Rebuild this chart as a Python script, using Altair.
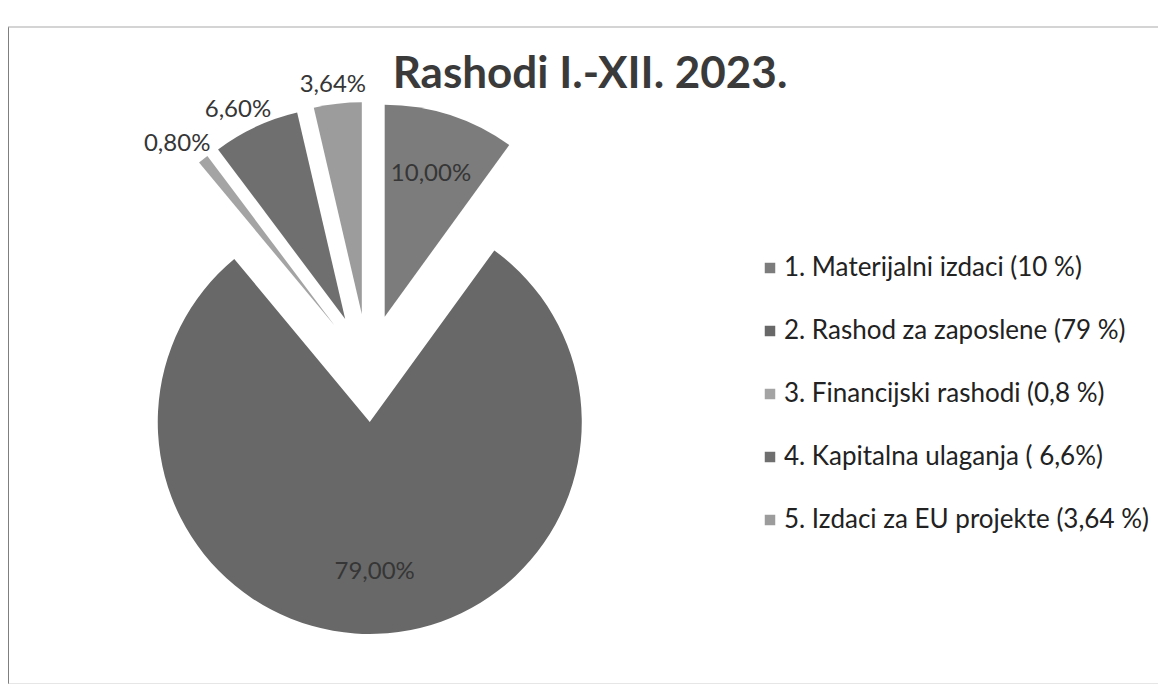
import altair as alt
import pandas as pd

title_text = "Rashodi I.-XII. 2023."
categories = [
    "1. Materijalni izdaci (10 %)",
    "2. Rashod za zaposlene (79 %)",
    "3. Financijski rashodi (0,8 %)",
    "4. Kapitalna ulaganja ( 6,6%)",
    "5. Izdaci za EU projekte  (3,64  %)",
]
values = [10.0, 79.0, 0.8, 6.6, 3.64]
value_labels = ["10,00%", "79,00%", "0,80%", "6,60%", "3,64%"]
colors = ["#7c7c7c", "#686868", "#a4a4a4", "#6f6f6f", "#9c9c9c"]

W, H = 1150, 657
CX, CY = 360, 341
R = 212
EXPLODE = 54
FONT = "Lato"

df = pd.DataFrame({
    "category": categories,
    "value": values,
    "label": value_labels,
    "order": list(range(len(values))),
})

base = (
    alt.Chart(df)
    .transform_window(cum="sum(value)", sort=[alt.SortField("order")], frame=[None, 0])
    .transform_joinaggregate(total="sum(value)")
    .transform_calculate(
        a0="2*PI*(datum.cum - datum.value)/datum.total",
        a1="2*PI*datum.cum/datum.total",
    )
    .transform_calculate(am="(datum.a0 + datum.a1)/2")
    .transform_calculate(
        cx=f"{CX} + {EXPLODE}*sin(datum.am)",
        cy=f"{CY} - {EXPLODE}*cos(datum.am)",
        inside="datum.value >= 10",
    )
    .transform_calculate(
        tx=f"datum.inside ? datum.cx + 150*sin(datum.am) : datum.cx + {R + 8}*sin(datum.am) + 34*sin(datum.am)",
        ty=f"datum.inside ? datum.cy - 150*cos(datum.am) : datum.cy - {R + 8}*cos(datum.am) - 11*cos(datum.am)",
    )
)

arcs = base.mark_arc(outerRadius=R).encode(
    theta=alt.Theta("a0:Q", scale=None, stack=None),
    theta2="a1:Q",
    x=alt.X("cx:Q", scale=None, axis=None),
    y=alt.Y("cy:Q", scale=None, axis=None),
    color=alt.Color(
        "category:N",
        scale=alt.Scale(domain=categories, range=colors),
        legend=alt.Legend(
            title=None,
            orient="none",
            legendX=749,
            legendY=228,
            padding=0,
            symbolType="square",
            symbolSize=110,
            symbolStrokeWidth=0,
            labelFont=FONT,
            labelFontSize=26,
            labelColor="#222222",
            labelOffset=1,
            labelLimit=600,
            rowPadding=37,
        ),
    ),
    order=alt.Order("order:Q"),
)

labels = base.mark_text(
    font=FONT, fontSize=24, color="#363636", align="center", baseline="middle"
).encode(
    x=alt.X("tx:Q", scale=None, axis=None),
    y=alt.Y("ty:Q", scale=None, axis=None),
    text="label:N",
)

title = alt.Chart(pd.DataFrame({"t": [title_text]})).mark_text(
    font=FONT, fontSize=44, fontWeight="bold", color="#3a3a3a",
    align="center", baseline="alphabetic",
).encode(x=alt.value(582), y=alt.value(61), text="t:N")

one = pd.DataFrame({"k": [0]})
left_rule = alt.Chart(one).mark_rule(color="#555555", strokeWidth=1.5).encode(
    x=alt.value(0), y=alt.value(0), y2=alt.value(H)
)
top_rule = alt.Chart(one).mark_rule(color="#aaaaaa", strokeWidth=1.2).encode(
    x=alt.value(0), x2=alt.value(W), y=alt.value(0)
)
bottom_rule = alt.Chart(one).mark_rule(color="#cccccc", strokeWidth=1).encode(
    x=alt.value(0), x2=alt.value(W), y=alt.value(H)
)

chart = (
    alt.layer(left_rule, top_rule, bottom_rule, arcs, labels, title)
    .properties(
        width=W,
        height=H,
        padding={"left": 0, "top": 19, "right": 0, "bottom": 0},
        autosize=alt.AutoSizeParams(type="none"),
        background="white",
    )
    .configure_view(stroke=None)
)

chart.save("out.html", embed_options={"renderer": "svg", "actions": False})
